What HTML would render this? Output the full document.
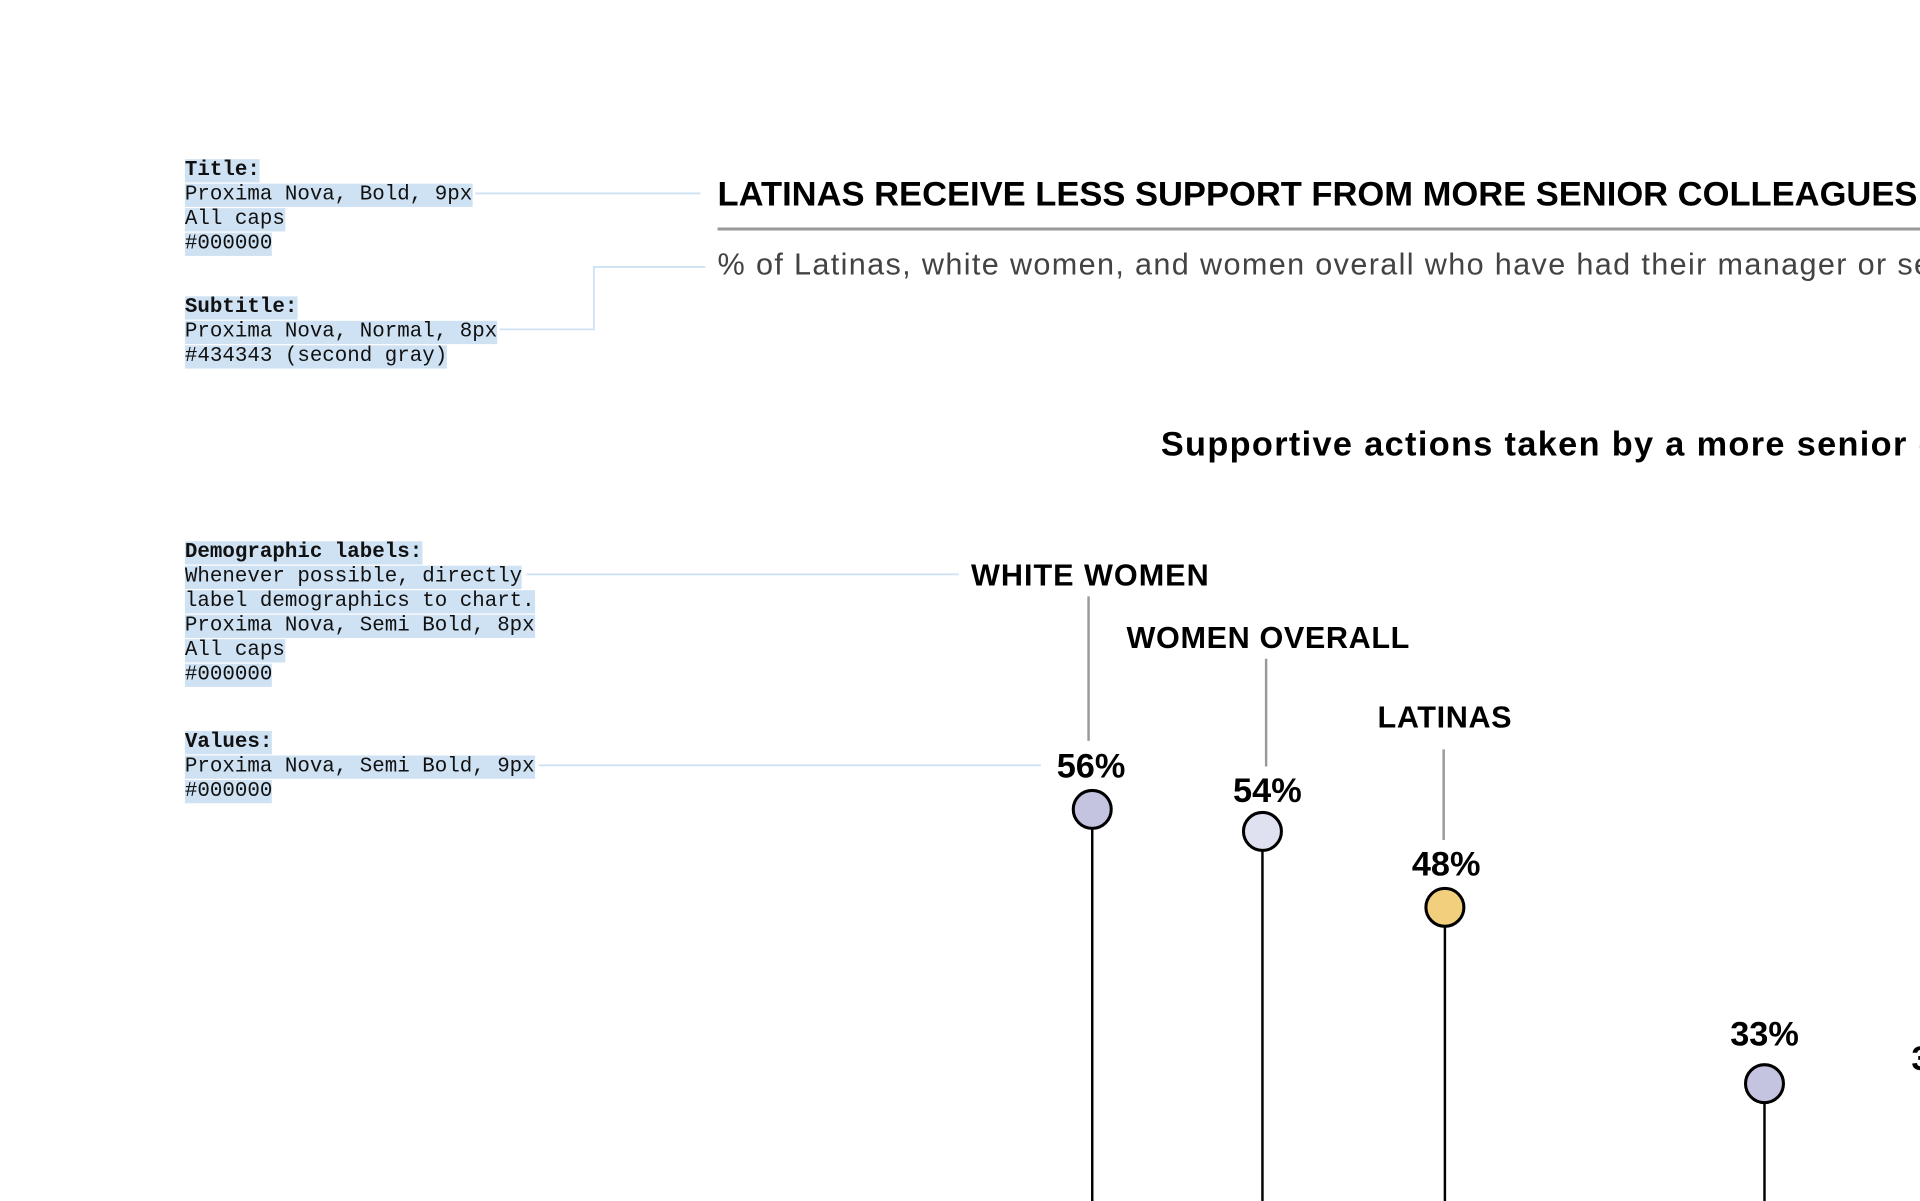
<!DOCTYPE html>
<html><head><meta charset="utf-8"><style>
html,body{margin:0;padding:0;background:#fff;overflow:hidden;width:1920px;height:1201px}
#w{position:absolute;left:0;top:0;width:1568px;height:981px;transform:scale(1.22449);transform-origin:0 0;overflow:hidden}
.m{position:absolute;font-family:"Liberation Mono",monospace;font-size:17px;line-height:20px;color:#111;white-space:pre}
.m span{background:#cfe2f3}
.t{position:absolute;font-family:"Liberation Sans",sans-serif;white-space:nowrap;line-height:1}
</style></head><body><div id="w">
<div class="m" style="left:151px;top:130px"><span><b>Title:</b></span>
<span>Proxima Nova, Bold, 9px</span>
<span>All caps</span>
<span>#000000</span></div>
<div class="m" style="left:151px;top:242px"><span><b>Subtitle:</b></span>
<span>Proxima Nova, Normal, 8px</span>
<span>#434343 (second gray)</span></div>
<div class="m" style="left:151px;top:442px"><span><b>Demographic labels:</b></span>
<span>Whenever possible, directly</span>
<span>label demographics to chart.</span>
<span>Proxima Nova, Semi Bold, 8px</span>
<span>All caps</span>
<span>#000000</span></div>
<div class="m" style="left:151px;top:597px"><span><b>Values:</b></span>
<span>Proxima Nova, Semi Bold, 9px</span>
<span>#000000</span></div>
<svg style="position:absolute;left:0;top:0" width="1568" height="981">
<g stroke="#cfe2f3" stroke-width="1.5" fill="none">
<path d="M388 158H572"/><path d="M408 269H485V218H576"/><path d="M430 469H783"/><path d="M440 625H850"/>
</g>
<path d="M586 187H1568" stroke="#999" stroke-width="2.5"/>
<g stroke="#999" stroke-width="2"><path d="M889 487V605"/><path d="M1034 538V626"/><path d="M1179 612V686"/></g>
<g stroke="#000" stroke-width="2"><path d="M892 677V981"/><path d="M1031 695V981"/><path d="M1180 757V981"/><path d="M1441 901V981"/></g>
<g stroke="#000" stroke-width="2.5">
<circle cx="892" cy="661" r="15.5" fill="#c4c3e0"/>
<circle cx="1031" cy="679" r="15.5" fill="#e0e1f0"/>
<circle cx="1180" cy="741" r="15.5" fill="#f2cf7d"/>
<circle cx="1441" cy="885" r="15.5" fill="#c4c3e0"/>
</g>
</svg>
<div class="t" style="left:586px;top:144px;font-size:28.2px;font-weight:bold;color:#000">LATINAS RECEIVE LESS SUPPORT FROM MORE SENIOR COLLEAGUES</div>
<div class="t" style="left:586px;top:204px;font-size:25px;letter-spacing:1.1px;color:#434343">% of Latinas, white women, and women overall who have had their manager or senior colleague</div>
<div class="t" style="left:948px;top:349px;font-size:28px;letter-spacing:1.1px;font-weight:bold;color:#000">Supportive actions taken by a more senior colleague</div>
<div class="t" style="left:793px;top:458px;font-size:25px;letter-spacing:0.8px;font-weight:bold">WHITE WOMEN</div>
<div class="t" style="left:920px;top:509px;font-size:25px;letter-spacing:0.5px;font-weight:bold">WOMEN OVERALL</div>
<div class="t" style="left:1125px;top:574px;font-size:25px;letter-spacing:0.5px;font-weight:bold">LATINAS</div>
<div class="t" style="left:863px;top:612px;font-size:28px;font-weight:bold">56%</div>
<div class="t" style="left:1007px;top:632px;font-size:28px;font-weight:bold">54%</div>
<div class="t" style="left:1153px;top:692px;font-size:28px;font-weight:bold">48%</div>
<div class="t" style="left:1413px;top:831px;font-size:28px;font-weight:bold">33%</div>
<div class="t" style="left:1561px;top:851px;font-size:28px;font-weight:bold">33%</div>
</div></body></html>
